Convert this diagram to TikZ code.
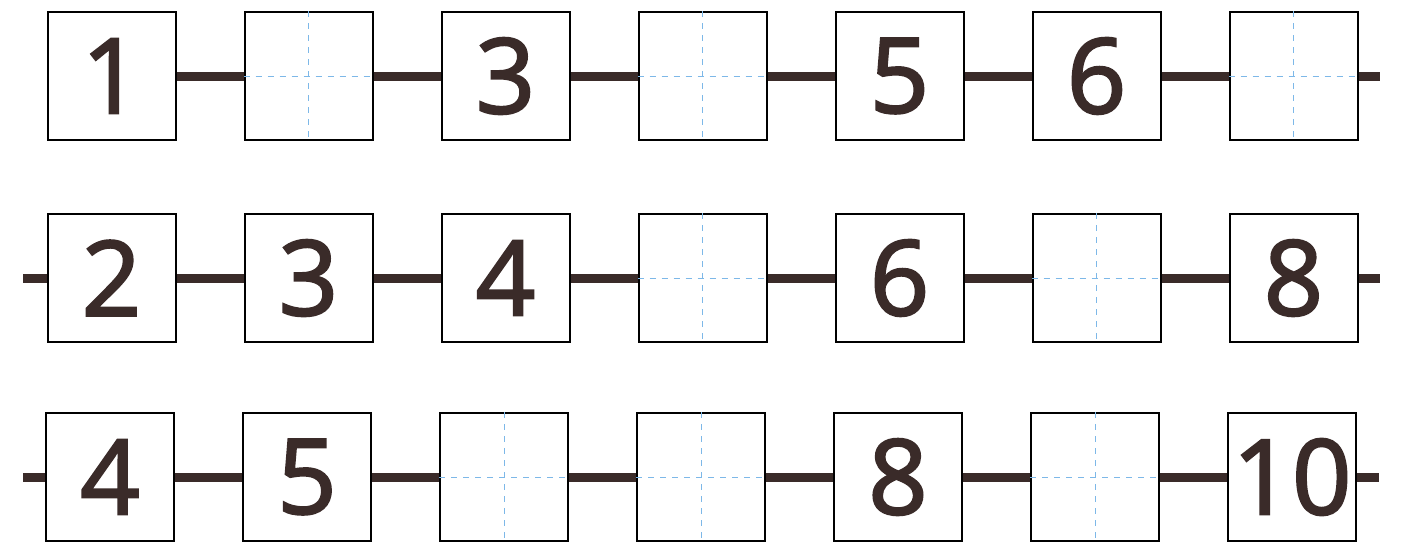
\documentclass[tikz,border=0pt]{standalone}
\usepackage{fontspec}
\newfontfamily\digitfont{Open Sans}[FakeBold=2.2]
\usetikzlibrary{positioning}
\definecolor{numBrown}{HTML}{3A2B29}
\definecolor{guideBlue}{HTML}{7DB8E8}

\tikzset{
  numbox/.style={draw=black, line width=1pt, minimum size=64pt, inner sep=0pt,
                 fill=white, text=numBrown, font=\fontsize{52}{52}\digitfont},
  link/.style={numBrown, line width=4.5pt},
  guide/.style={guideBlue, dashed, line width=0.5pt}
}

\begin{document}
\begin{tikzpicture}[x=0.5pt, y=-0.5pt]
  \useasboundingbox (0,0) rectangle (1401,546);

  % first row
  \foreach \i/\t in {1/1,2/,3/3,4/,5/5,6/6,7/}
    \node[numbox] (a\i) at ({111.5+197*(\i-1)},76) {\t};
  % second row
  \foreach \i/\t in {1/2,2/3,3/4,4/,5/6,6/,7/8}
    \node[numbox] (b\i) at ({111.5+197*(\i-1)},278) {\t};
  % third row
  \foreach \i/\t in {1/4,2/5,3/,4/,5/8,6/,7/10}
    \node[numbox] (c\i) at ({110+197*(\i-1)},477) {\t};

  % dashed guides in the empty boxes
  \foreach \n in {a2,a4,a7,b4,b6,c3,c4,c6}
    \draw[guide] (\n.north) -- (\n.south) (\n.west) -- (\n.east);

  % links between the boxes
  \foreach \r in {a,b,c}
    \foreach \i/\j in {1/2,2/3,3/4,4/5,5/6,6/7}
      \draw[link] (\r\i.east) -- (\r\j.west);

  \coordinate (aR) at (1380,76);
  \coordinate (bL) at (23,278);
  \coordinate (bR) at (1380,278);
  \coordinate (cL) at (23,477);
  \coordinate (cR) at (1379,477);
  \draw[link] (a7.east) -- (aR);
  \draw[link] (bL) -- (b1.west) (b7.east) -- (bR);
  \draw[link] (cL) -- (c1.west) (c7.east) -- (cR);
\end{tikzpicture}
\end{document}
